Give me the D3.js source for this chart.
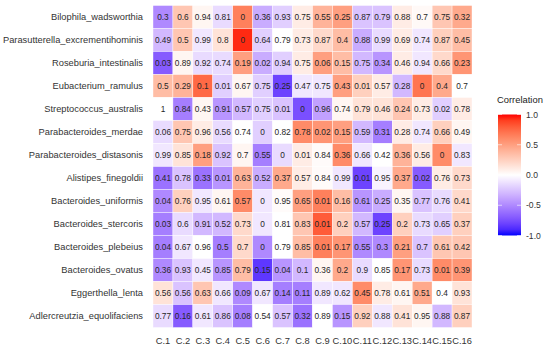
<!DOCTYPE html>
<html>
<head>
<meta charset="utf-8">
<script src="https://cdn.jsdelivr.net/npm/d3@7"></script>
<style>
body{margin:0;background:#fff;}
text{font-family:"Liberation Sans",Arial,sans-serif;}
</style>
</head>
<body>
<svg id="chart" width="550" height="349"></svg>
<script>
const rows = ["Bilophila_wadsworthia","Parasutterella_excrementihominis","Roseburia_intestinalis","Eubacterium_ramulus","Streptococcus_australis","Parabacteroides_merdae","Parabacteroides_distasonis","Alistipes_finegoldii","Bacteroides_uniformis","Bacteroides_stercoris","Bacteroides_plebeius","Bacteroides_ovatus","Eggerthella_lenta","Adlercreutzia_equolifaciens"];
const cols = ["C.1","C.2","C.3","C.4","C.5","C.6","C.7","C.8","C.9","C.10","C.11","C.12","C.13","C.14","C.15","C.16"];
const pvals = [
 [0.3,0.6,0.94,0.81,0,0.36,0.93,0.75,0.55,0.25,0.87,0.79,0.88,0.7,0.75,0.32],
 [0.49,0.5,0.99,0.8,0,0.64,0.79,0.73,0.87,0.4,0.88,0.99,0.69,0.74,0.87,0.45],
 [0.03,0.89,0.92,0.74,0.19,0.02,0.94,0.75,0.06,0.15,0.75,0.34,0.46,0.94,0.66,0.23],
 [0.5,0.29,0.1,0.01,0.67,0.75,0.25,0.47,0.75,0.43,0.01,0.57,0.28,0,0.4,0.7],
 [1,0.84,0.43,0.91,0.57,0.75,0.01,0,0.96,0.74,0.79,0.46,0.24,0.73,0.02,0.78],
 [0.06,0.75,0.96,0.56,0.74,0,0.82,0.78,0.02,0.15,0.59,0.31,0.28,0.74,0.66,0.49],
 [0.99,0.85,0.18,0.92,0.7,0.55,0,0.01,0.84,0.36,0.66,0.42,0.36,0.56,0,0.83],
 [0.41,0.78,0.33,0.01,0.63,0.52,0.37,0.57,0.84,0.99,0.01,0.95,0.37,0.02,0.76,0.73],
 [0.04,0.76,0.95,0.61,0.57,0,0.95,0.65,0.01,0.16,0.61,0.25,0.35,0.77,0.76,0.41],
 [0.03,0.6,0.91,0.52,0.73,0,0.81,0.83,0.01,0.2,0.57,0.25,0.2,0.73,0.65,0.37],
 [0.04,0.67,0.96,0.5,0.7,0,0.79,0.85,0.01,0.17,0.55,0.3,0.21,0.7,0.61,0.42],
 [0.36,0.93,0.45,0.85,0.79,0.15,0.04,0.1,0.36,0.2,0.9,0.85,0.17,0.73,0.01,0.39],
 [0.56,0.56,0.63,0.66,0.09,0.67,0.14,0.11,0.89,0.62,0.45,0.78,0.61,0.51,0.4,0.93],
 [0.77,0.16,0.61,0.86,0.08,0.54,0.57,0.32,0.89,0.15,0.92,0.88,0.41,0.95,0.88,0.87]
];
const corr = [
 [-0.5,0.3,0.05,-0.15,0.65,-0.35,-0.2,0.1,0.4,0.5,-0.25,-0.25,0.1,0.03,0.3,0.45],
 [-0.3,0.3,-0.1,0.15,0.95,-0.2,0,0.1,0.2,0.35,-0.35,-0.15,0.1,-0.1,0.25,0.35],
 [-0.7,0.05,-0.15,-0.15,0.5,-0.35,-0.2,0.1,0.5,0.35,-0.3,-0.45,0.1,-0.1,0.2,0.55],
 [0.35,0.4,0.75,-0.2,0.05,-0.2,-0.8,-0.1,-0.1,0.5,0.25,0.1,-0.3,0.7,0.45,0],
 [0,-0.55,0.05,-0.45,-0.3,-0.2,-0.25,-0.75,-0.4,0.05,0.15,0.15,0.3,0.1,-0.2,0.1],
 [-0.15,0.3,0.1,-0.15,0,-0.2,0,0.6,0.55,0.5,-0.3,-0.55,0.1,-0.1,0.25,0.05],
 [-0.1,0.15,0.5,-0.25,0.05,-0.55,-0.15,0.1,0.02,0.6,-0.1,0,0.4,0.1,0.6,-0.1],
 [-0.6,-0.25,-0.6,-0.45,0.4,-0.35,0.45,0.1,0.02,-0.1,-0.8,-0.05,0.45,-0.7,0.1,0.2],
 [-0.5,0.25,-0.1,0.05,0.6,-0.1,0.02,0.5,0.65,0.35,-0.45,-0.35,0.05,-0.25,-0.15,0.2],
 [-0.55,-0.15,-0.3,-0.3,0.2,-0.1,0,0.3,0.8,0.25,-0.3,-0.8,0.25,-0.15,-0.2,0.25],
 [-0.55,-0.1,0,-0.55,0.2,-0.5,0,0.35,0.65,0.55,-0.5,-0.5,0.5,-0.25,0.3,0.3],
 [-0.5,-0.25,-0.1,-0.45,0.35,-0.85,-0.45,-0.3,0.05,0.45,-0.15,0,0.55,-0.15,0.6,0.55],
 [0.15,-0.25,0.3,-0.1,-0.5,-0.1,-0.55,-0.55,-0.1,-0.1,0.6,0.1,0.05,0.45,0,0.15],
 [-0.15,-0.7,-0.1,-0.25,-0.55,0,-0.25,-0.6,0,-0.45,0.25,-0.1,0.15,0.05,-0.3,0.25]
];
const legendTicks = [1.0,0.5,0.0,-0.5,-1.0];

const svg = d3.select("#chart");
const mLeft = 153, mRight = 472, mTop = 5.5, mBottom = 327.5;
const x = d3.scaleBand().domain(cols).range([mLeft,mRight]);
const y = d3.scaleBand().domain(rows).range([mTop,mBottom]);
const color = d3.scaleLinear().domain([-1,0,1]).range(["#0000ff","#ffffff","#ff0000"]).interpolate(d3.interpolateLab);

const cells = [];
rows.forEach((r,i)=>cols.forEach((c,j)=>cells.push({r,c,p:pvals[i][j],v:corr[i][j]})));

svg.append("g").selectAll("rect").data(cells).join("rect")
  .attr("x",d=>x(d.c)).attr("y",d=>y(d.r))
  .attr("width",x.bandwidth()).attr("height",y.bandwidth())
  .attr("fill",d=>color(d.v)).attr("stroke","#fff").attr("stroke-width",0.4);

svg.append("g").selectAll("text").data(cells).join("text")
  .attr("x",d=>x(d.c)+x.bandwidth()/2).attr("y",d=>y(d.r)+y.bandwidth()/2)
  .attr("text-anchor","middle").attr("dominant-baseline","central")
  .attr("font-size","8.3px").attr("fill","#262626")
  .text(d=>String(d.p));

// row labels
svg.append("g").selectAll("text").data(rows).join("text")
  .attr("x",mLeft-10).attr("y",d=>y(d)+y.bandwidth()/2)
  .attr("text-anchor","end").attr("dominant-baseline","central")
  .attr("font-size","9.3px").attr("fill","#333")
  .text(d=>d);

// column labels
svg.append("g").selectAll("text").data(cols).join("text")
  .attr("x",d=>x(d)+x.bandwidth()/2).attr("y",341)
  .attr("text-anchor","middle").attr("dominant-baseline","central")
  .attr("font-size","9.3px").attr("fill","#333")
  .text(d=>d);

// legend
const lg = svg.append("g");
const ly = d3.scaleLinear().domain([1,-1]).range([114.5,235.5]);
const defs = svg.append("defs");
const grad = defs.append("linearGradient").attr("id","cg").attr("x1",0).attr("y1",0).attr("x2",0).attr("y2",1);
d3.range(0,21).forEach(k=>{
  const v = 1 - k/10;
  grad.append("stop").attr("offset",(k/20*100)+"%").attr("stop-color",color(v));
});
lg.append("text").attr("x",497).attr("y",103).attr("font-size","9.4px").attr("fill","#222").text("Correlation");
lg.append("rect").attr("x",498).attr("y",ly(1)).attr("width",23).attr("height",ly(-1)-ly(1)).attr("fill","url(#cg)");
lg.selectAll("line.tk").data(legendTicks).join("line").attr("class","tk")
  .attr("x1",498).attr("x2",502).attr("y1",d=>ly(d)).attr("y2",d=>ly(d))
  .attr("stroke","#fff").attr("stroke-width",0.6);
lg.selectAll("line.tk2").data(legendTicks).join("line").attr("class","tk2")
  .attr("x1",517).attr("x2",521).attr("y1",d=>ly(d)).attr("y2",d=>ly(d))
  .attr("stroke","#fff").attr("stroke-width",0.6);
lg.selectAll("text.lb").data(legendTicks).join("text").attr("class","lb")
  .attr("x",526).attr("y",d=>ly(d)).attr("dominant-baseline","central")
  .attr("font-size","8.6px").attr("fill","#333")
  .text(d=>d3.format(".1f")(d).replace("−","-"));
</script>
</body>
</html>
